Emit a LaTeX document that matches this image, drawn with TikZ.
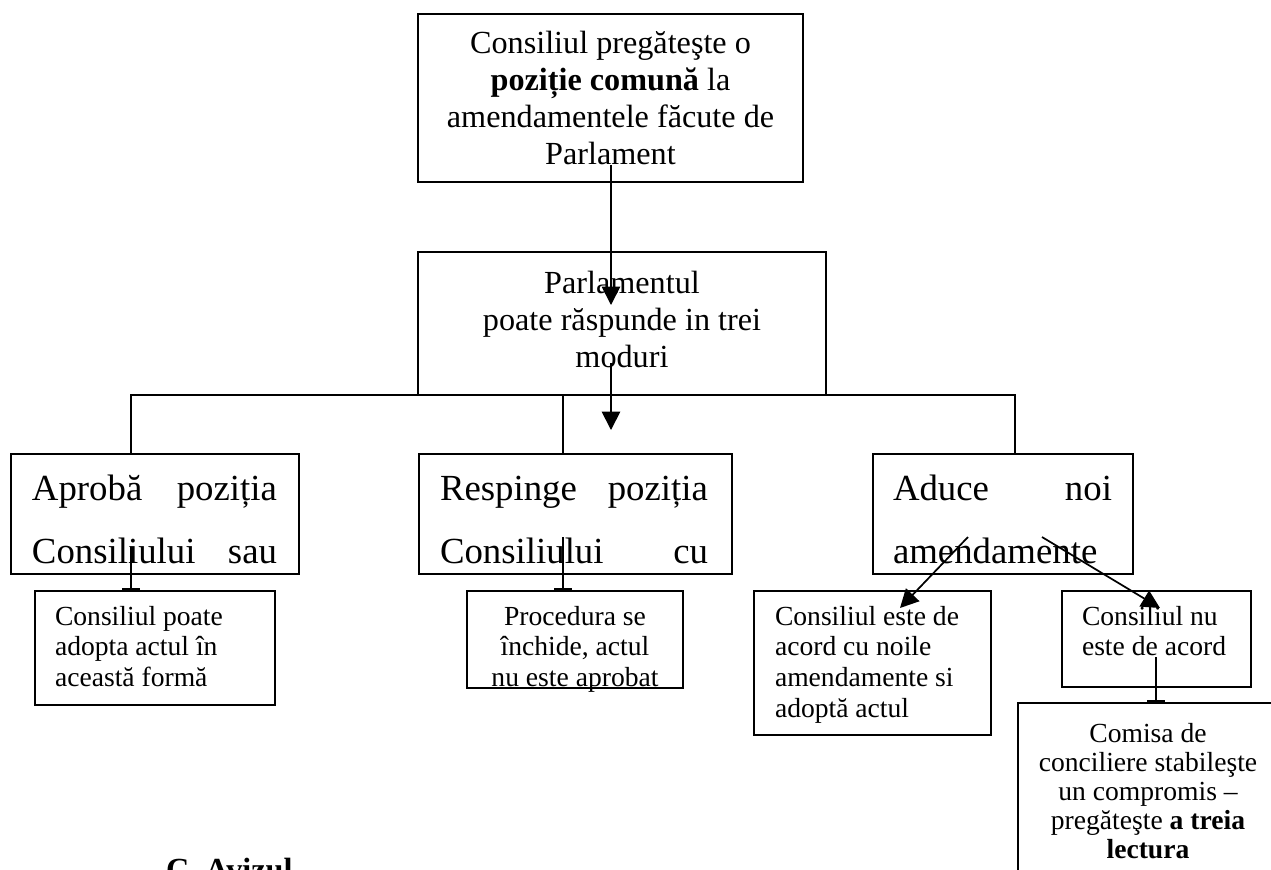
\documentclass[tikz,border=0pt]{standalone}
\usepackage{fontspec}
\setmainfont{Liberation Serif}
\usetikzlibrary{arrows.meta}

\newdimen\pxu \pxu=0.43478pt
% width, height, first baseline, alignment, text
\newcommand{\inbox}[5]{\parbox[t][#2\pxu][t]{#1\pxu}{#4\rule{0pt}{#3\pxu}#5}}

\begin{document}
\begin{tikzpicture}[x=0.43478pt, y=-0.43478pt,
  box/.style={draw, line width=0.9pt, anchor=north west, inner sep=0pt, outer sep=0pt},
  lead/.style={box, font=\fontsize{14}{16.1}\selectfont},
  branch/.style={box, font=\fontsize{16}{27.4}\selectfont},
  leaf/.style={box, font=\fontsize{12}{13.4}\selectfont},
  link/.style={line width=0.75pt},
  arr/.style={link, -{Triangle[length=8pt,width=8pt]}},
  tee/.style={link, -{Bar[width=8pt,line width=1.2pt]}}]

\path[use as bounding box, fill=white] (0,0) rectangle (1271,869);

% top
\node[lead] (consiliu) at (418,14) {\inbox{385}{168}{39}{\centering}{Consiliul pregăteşte o\\ \textbf{poziție comună} la\\ amendamentele făcute de\\ Parlament}};
\node[lead] (parlament) at (418,252) {\inbox{408}{143}{41}{\centering}{Parlamentul\\ poate răspunde in trei\\ moduri}};

% three ways
\node[branch] (aproba) at (11,454) {\inbox{288}{120}{46}{\leftskip=21\pxu\rightskip=22\pxu}{Aprobă\hfill poziția\\ Consiliului\hfill sau}};
\node[branch] (respinge) at (419,454) {\inbox{313}{120}{46}{\leftskip=21\pxu\rightskip=24\pxu}{Respinge\hfill poziția\\ Consiliului\hfill cu}};
\node[branch] (aduce) at (873,454) {\inbox{260}{120}{46}{\leftskip=20\pxu\rightskip=21\pxu}{Aduce\hfill noi\\ amendamente}};

% results
\node[leaf] (adopta) at (35,591) {\inbox{240}{114}{34}{\raggedright\leftskip=20\pxu}{Consiliul poate\\ adopta actul în\\ această formă}};
\node[leaf] (inchide) at (467,591) {\inbox{216}{97}{34}{\centering}{Procedura se\\ închide, actul\\ nu este aprobat}};
\node[leaf] (acord) at (754,591) {\inbox{237}{144}{34}{\raggedright\leftskip=21\pxu}{Consiliul este de\\ acord cu noile\\ amendamente si\\ adoptă actul}};
\node[leaf] (dezacord) at (1062,591) {\inbox{189}{96}{34}{\raggedright\leftskip=20\pxu}{Consiliul nu\\ este de acord}};
\node[box, font=\fontsize{12}{12.7}\selectfont] (comisa) at (1018,703) {\inbox{260}{220}{39}{\centering}{Comisa de\\ conciliere stabileşte\\ un compromis –\\ pregăteşte \textbf{a treia}\\ \textbf{lectura}}};

\node[anchor=base west, font=\fontsize{14}{16}\selectfont\bfseries] (avizul) at (158,880) {C. Avizul};

\coordinate (a1) at (611,165);
\coordinate (a2) at (611,305);
\coordinate (b1) at (611,363);
\coordinate (b2) at (611,430);
\coordinate (v1) at (131,395);
\coordinate (v2) at (563,395);
\coordinate (v3) at (1015,395);
\coordinate (c1) at (131,547);
\coordinate (c2) at (563,537);
\coordinate (c3) at (1156,657);
\coordinate (d1) at (968,537);
\coordinate (d2) at (900,608);
\coordinate (d3) at (1042,537);
\coordinate (d4) at (1160,608);

\draw[arr] (a1) -- (a2);
\draw[arr] (b1) -- (b2);
\draw[link] (v1 |- aproba.north) -- (v1) -- (v3) -- (v3 |- aduce.north);
\draw[link] (v2) -- (v2 |- respinge.north);

\draw[tee] (c1) -- (c1 |- adopta.north);
\draw[tee] (c2) -- (c2 |- inchide.north);
\draw[tee] (c3) -- (c3 |- comisa.north);
\draw[arr] (d1) -- (d2);
\draw[arr] (d3) -- (d4);

\end{tikzpicture}
\end{document}
